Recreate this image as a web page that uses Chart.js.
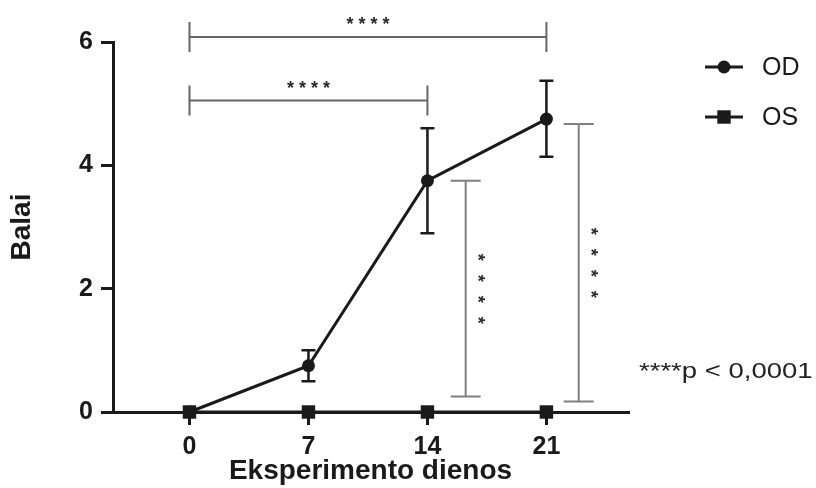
<!DOCTYPE html>
<html lang="lt">
  <head>
    <meta charset="UTF-8" />
    <title>Balai</title>
    <script src="https://cdn.jsdelivr.net/npm/chart.js"></script>
    <style>
      body {
        margin: 0;
        background: #fff;
      }
    </style>
  </head>
  <body>
    <canvas id="myChart" width="816" height="488"></canvas>

    <script>
      // data
      const days = [0, 7, 14, 21];
      const odMean = [0, 0.75, 3.75, 4.75];
      const odLow = [0, 0.5, 2.9, 4.14];
      const odHigh = [0, 1.0, 4.6, 5.37];
      const osMean = [0, 0, 0, 0];
      const seriesNames = ["OD", "OS"];
      const yTicks = [0, 2, 4, 6];

      // significance brackets (in data units)
      const hBrackets = [
        { from: 0, to: 21, y: 6.08, label: "****" },
        { from: 0, to: 14, y: 5.05, label: "****" },
      ];
      const vBrackets = [
        { x: 16.25, from: 0.25, to: 3.75, label: "****" },
        { x: 22.9, from: 0.17, to: 4.67, label: "****" },
      ];
      const pNote = "****p < 0,0001";

      const FONT = "'Liberation Sans', Arial, sans-serif";
      const INK = "#1a1a1a";

      const extras = {
        id: "extras",
        beforeDatasetsDraw(chart) {
          const { ctx, scales: { x, y } } = chart;
          ctx.save();
          ctx.strokeStyle = INK;
          ctx.lineWidth = 2.5;
          days.forEach((d, i) => {
            if (odHigh[i] === odLow[i]) return;
            const px = x.getPixelForValue(d);
            const top = y.getPixelForValue(odHigh[i]);
            const bot = y.getPixelForValue(odLow[i]);
            ctx.beginPath();
            ctx.moveTo(px, top);
            ctx.lineTo(px, bot);
            ctx.moveTo(px - 7, top);
            ctx.lineTo(px + 7, top);
            ctx.moveTo(px - 7, bot);
            ctx.lineTo(px + 7, bot);
            ctx.stroke();
          });
          ctx.restore();
        },
        afterDraw(chart) {
          const { ctx, scales: { x, y } } = chart;
          ctx.save();

          // horizontal brackets
          ctx.font = "bold 18px " + FONT;
          ctx.letterSpacing = "5px";
          hBrackets.forEach((b) => {
            const x1 = x.getPixelForValue(b.from);
            const x2 = x.getPixelForValue(b.to);
            const py = y.getPixelForValue(b.y);
            ctx.strokeStyle = "#666";
            ctx.lineWidth = 2;
            ctx.beginPath();
            ctx.moveTo(x1, py);
            ctx.lineTo(x2, py);
            ctx.moveTo(x1, py - 15);
            ctx.lineTo(x1, py + 15);
            ctx.moveTo(x2, py - 15);
            ctx.lineTo(x2, py + 15);
            ctx.stroke();
            ctx.fillStyle = "#2a2a2a";
            ctx.textAlign = "center";
            ctx.textBaseline = "alphabetic";
            ctx.fillText(b.label, (x1 + x2) / 2 + 2.5, py - 7);
          });

          // vertical brackets with rotated stars
          ctx.letterSpacing = "14px";
          vBrackets.forEach((b) => {
            const px = x.getPixelForValue(b.x);
            const y1 = y.getPixelForValue(b.to);
            const y2 = y.getPixelForValue(b.from);
            ctx.strokeStyle = "#808080";
            ctx.lineWidth = 2;
            ctx.beginPath();
            ctx.moveTo(px, y1);
            ctx.lineTo(px, y2);
            ctx.moveTo(px - 15, y1);
            ctx.lineTo(px + 15, y1);
            ctx.moveTo(px - 15, y2);
            ctx.lineTo(px + 15, y2);
            ctx.stroke();
            ctx.save();
            ctx.translate(px + 11, (y1 + y2) / 2 + 7);
            ctx.rotate(Math.PI / 2);
            ctx.fillStyle = "#2a2a2a";
            ctx.textAlign = "center";
            ctx.textBaseline = "middle";
            ctx.fillText(b.label, 0, 0);
            ctx.restore();
          });
          ctx.letterSpacing = "0px";

          // legend
          chart.data.datasets.forEach((ds, i) => {
            const ly = 67 + i * 50;
            ctx.strokeStyle = INK;
            ctx.fillStyle = INK;
            ctx.lineWidth = 3;
            ctx.beginPath();
            ctx.moveTo(705, ly);
            ctx.lineTo(743, ly);
            ctx.stroke();
            Chart.helpers.drawPoint(
              ctx,
              { pointStyle: ds.pointStyle, radius: ds.pointRadius, rotation: 0, borderWidth: 0 },
              724,
              ly
            );
            ctx.font = "25px " + FONT;
            ctx.textAlign = "left";
            ctx.textBaseline = "middle";
            ctx.fillText(ds.label, 762, ly + 1);
          });

          // p-value note
          ctx.translate(639, 378);
          ctx.scale(1.25, 1);
          ctx.font = "22px " + FONT;
          ctx.fillStyle = "#222";
          ctx.textAlign = "left";
          ctx.textBaseline = "alphabetic";
          ctx.fillText(pNote, 0, 0);

          ctx.restore();
        },
      };

      const ctx = document.getElementById("myChart");

      const myChart = new Chart(ctx, {
        type: "line",
        data: {
          datasets: [
            {
              label: seriesNames[0],
              data: days.map((d, i) => ({ x: d, y: odMean[i] })),
              borderColor: INK,
              borderWidth: 3,
              pointStyle: "circle",
              pointRadius: 6.5,
              pointBorderWidth: 0,
              pointBackgroundColor: INK,
              clip: false,
              order: 1,
            },
            {
              label: seriesNames[1],
              data: days.map((d, i) => ({ x: d, y: osMean[i] })),
              borderColor: INK,
              borderWidth: 3,
              pointStyle: "rect",
              pointRadius: 9.5,
              pointBorderWidth: 0,
              pointBackgroundColor: INK,
              clip: false,
              order: 0,
            },
          ],
        },
        options: {
          responsive: false,
          animation: false,
          layout: { padding: { left: 0, top: 42, right: 188, bottom: 0 } },
          plugins: {
            legend: { display: false },
            tooltip: { enabled: false },
          },
          scales: {
            x: {
              type: "linear",
              min: -4.5,
              max: 25.8,
              afterBuildTicks(axis) {
                axis.ticks = days.map((v) => ({ value: v }));
              },
              afterFit(axis) {
                axis.height = 76;
              },
              ticks: {
                font: { family: FONT, size: 25, weight: "bold" },
                color: INK,
                padding: 7,
                maxRotation: 0,
                autoSkip: false,
              },
              grid: {
                drawOnChartArea: false,
                drawTicks: true,
                tickLength: 13,
                color: INK,
                lineWidth: 3,
              },
              border: { color: INK, width: 3 },
              title: {
                display: true,
                text: "Eksperimento dienos",
                font: { family: FONT, size: 28, weight: "bold" },
                color: INK,
                padding: { top: 0, bottom: 0 },
              },
            },
            y: {
              min: 0,
              max: 6,
              afterBuildTicks(axis) {
                axis.ticks = yTicks.map((v) => ({ value: v }));
              },
              afterFit(axis) {
                axis.width = 113;
              },
              ticks: {
                font: { family: FONT, size: 25, weight: "bold" },
                color: INK,
                padding: 8,
              },
              grid: {
                drawOnChartArea: false,
                drawTicks: true,
                tickLength: 12,
                color: INK,
                lineWidth: 3,
              },
              border: { color: INK, width: 3 },
              title: {
                display: true,
                text: "Balai",
                font: { family: FONT, size: 28, weight: "bold" },
                color: INK,
                padding: { top: 5, bottom: 0 },
              },
            },
          },
        },
        plugins: [extras],
      });
    </script>
  </body>
</html>
